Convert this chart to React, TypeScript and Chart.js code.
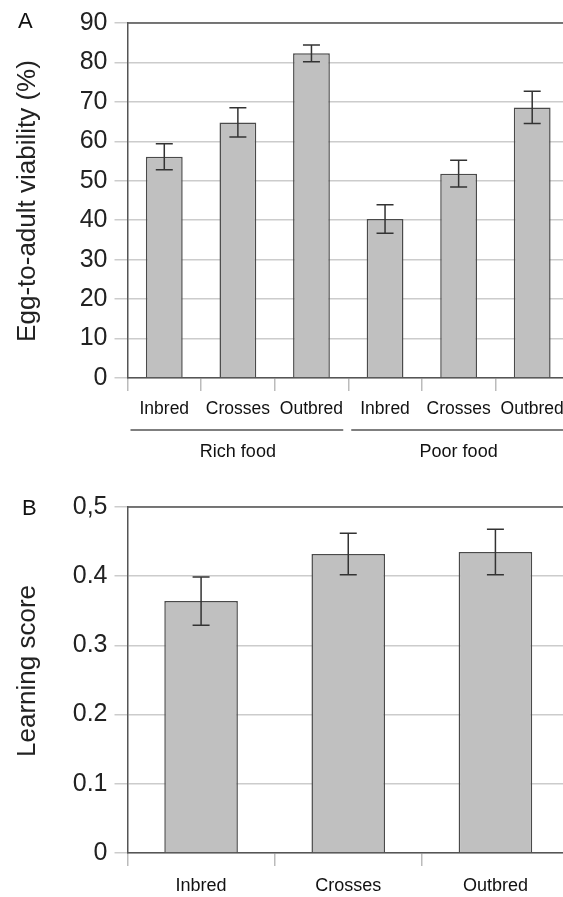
import React, { useEffect, useRef } from 'react';
import { Chart, registerables } from 'chart.js';

Chart.register(...registerables);

// ---------- data ----------
const viabilityCategories = ['Inbred', 'Crosses', 'Outbred', 'Inbred', 'Crosses', 'Outbred'];
const viabilityValues = [56.1, 64.8, 82.3, 40.3, 51.8, 68.6];
const viabilityErrors = [3.3, 3.7, 2.1, 3.6, 3.4, 4.1];
const foodGroups = ['Rich food', 'Poor food'];
const viabilityTitle = 'Egg-to-adult viability (%)';

const learningCategories = ['Inbred', 'Crosses', 'Outbred'];
const learningValues = [0.364, 0.432, 0.435];
const learningErrors = [0.035, 0.03, 0.033];
const learningTitle = 'Learning score';

const FONT = '"Liberation Sans", Arial, Helvetica, sans-serif';

function errorBarPlugin(errors: number[]) {
  return {
    id: 'errorBars',
    afterDatasetsDraw(chart: any) {
      const ctx = chart.ctx;
      const meta = chart.getDatasetMeta(0);
      const y = chart.scales.y;
      const vals = chart.data.datasets[0].data as number[];
      ctx.save();
      ctx.strokeStyle = '#333';
      ctx.lineWidth = 1.5;
      meta.data.forEach((bar: any, i: number) => {
        const x = bar.x;
        const top = y.getPixelForValue(vals[i] + errors[i]);
        const bot = y.getPixelForValue(vals[i] - errors[i]);
        const cap = 8.5;
        ctx.beginPath();
        ctx.moveTo(x, top);
        ctx.lineTo(x, bot);
        ctx.moveTo(x - cap, top);
        ctx.lineTo(x + cap, top);
        ctx.moveTo(x - cap, bot);
        ctx.lineTo(x + cap, bot);
        ctx.stroke();
      });
      ctx.restore();
    },
  };
}

function framePlugin(letter: string, lx: number, ly: number, title: string, titleY: number) {
  return {
    id: 'frame',
    afterDraw(chart: any) {
      const ctx = chart.ctx;
      const a = chart.chartArea;
      ctx.save();
      ctx.strokeStyle = '#555';
      ctx.lineWidth = 1.5;
      ctx.beginPath();
      ctx.moveTo(a.left, a.top);
      ctx.lineTo(a.right, a.top);
      ctx.stroke();
      ctx.fillStyle = '#111';
      ctx.font = `22px ${FONT}`;
      ctx.textAlign = 'left';
      ctx.textBaseline = 'alphabetic';
      ctx.fillText(letter, lx, ly);
      // rotated axis title
      ctx.translate(28, titleY);
      ctx.rotate(-Math.PI / 2);
      ctx.fillStyle = '#222';
      ctx.font = `26px ${FONT}`;
      ctx.textAlign = 'center';
      ctx.textBaseline = 'middle';
      ctx.fillText(title, 0, 0);
      ctx.restore();
    },
  };
}

const groupPlugin = {
  id: 'groups',
  afterDraw(chart: any) {
    const ctx = chart.ctx;
    const xs = chart.scales.x;
    const n = chart.data.labels.length;
    const per = n / foodGroups.length;
    const half = (xs.getPixelForValue(1) - xs.getPixelForValue(0)) / 2;
    ctx.save();
    ctx.strokeStyle = '#555';
    ctx.lineWidth = 1.5;
    ctx.fillStyle = '#111';
    ctx.font = `18px ${FONT}`;
    ctx.textAlign = 'center';
    ctx.textBaseline = 'middle';
    foodGroups.forEach((g, gi) => {
      const l = xs.getPixelForValue(gi * per) - half;
      const r = xs.getPixelForValue(gi * per + per - 1) + half;
      ctx.beginPath();
      ctx.moveTo(l + 3, 430);
      ctx.lineTo(r - 5, 430);
      ctx.stroke();
      ctx.fillText(g, (l + r) / 2, 452);
    });
    ctx.restore();
  },
};

function baseOptions(opts: {
  min: number; max: number; step: number; top: number; xHeight: number;
  xPad: number; xFont: number; tickFmt?: (v: number) => string;
}) {
  return {
    animation: false,
    responsive: false,
    maintainAspectRatio: false,
    layout: { padding: { top: opts.top, right: 6, left: 0, bottom: 0 } },
    plugins: { legend: { display: false }, tooltip: { enabled: false } },
    scales: {
      x: {
        grid: { offset: true, drawOnChartArea: false, drawTicks: true, tickLength: 13, color: '#bbb', lineWidth: 1.5 },
        border: { display: true, color: '#555', width: 1.5 },
        ticks: {
          autoSkip: false, maxRotation: 0, minRotation: 0,
          font: { family: FONT, size: opts.xFont }, color: '#111', padding: opts.xPad,
        },
        afterFit: (s: any) => { s.height = opts.xHeight; },
      },
      y: {
        min: opts.min,
        max: opts.max,
        ticks: {
          stepSize: opts.step,
          font: { family: FONT, size: 25 },
          color: '#222',
          padding: 7,
          callback: opts.tickFmt ? (v: any) => opts.tickFmt!(Number(v)) : undefined,
        },
        grid: { color: '#ccc', lineWidth: 1.5, tickLength: 13 },
        border: { display: true, color: '#555', width: 1.5 },
        afterFit: (s: any) => { s.width = 127.5; },
      },
    },
  };
}

export default function App() {
  const refA = useRef<HTMLCanvasElement>(null);
  const refB = useRef<HTMLCanvasElement>(null);

  useEffect(() => {
    const chartA = new Chart(refA.current!, {
      type: 'bar',
      data: {
        labels: viabilityCategories,
        datasets: [{
          data: viabilityValues, backgroundColor: '#c0c0c0', borderColor: '#4a4a4a',
          borderWidth: 1.5, categoryPercentage: 1, barPercentage: 0.5,
        }],
      },
      options: baseOptions({ min: 0, max: 90, step: 10, top: 23, xHeight: 82, xPad: 8, xFont: 17.5 }) as any,
      plugins: [errorBarPlugin(viabilityErrors), framePlugin('A', 18, 28, viabilityTitle, 201), groupPlugin],
    });
    const chartB = new Chart(refB.current!, {
      type: 'bar',
      data: {
        labels: learningCategories,
        datasets: [{
          data: learningValues, backgroundColor: '#c0c0c0', borderColor: '#4a4a4a',
          borderWidth: 1.5, categoryPercentage: 1, barPercentage: 0.5,
        }],
      },
      options: baseOptions({
        min: 0, max: 0.5, step: 0.1, top: 47, xHeight: 44, xPad: 9, xFont: 18,
        tickFmt: (v) => (Math.abs(v - 0.5) < 1e-9 ? '0,5' : String(Math.round(v * 10) / 10)),
      }) as any,
      plugins: [errorBarPlugin(learningErrors), framePlugin('B', 22, 55, learningTitle, 211)],
    });
    return () => { chartA.destroy(); chartB.destroy(); };
  }, []);

  return (
    <div style={{ position: 'fixed', left: 0, top: 0, width: 563, height: 897, overflow: 'hidden', background: '#fff' }}>
      <canvas ref={refA} width={575} height={460} style={{ position: 'absolute', left: 0, top: 0, display: 'block' }} />
      <canvas ref={refB} width={575} height={437} style={{ position: 'absolute', left: 0, top: 460, display: 'block' }} />
    </div>
  );
}
